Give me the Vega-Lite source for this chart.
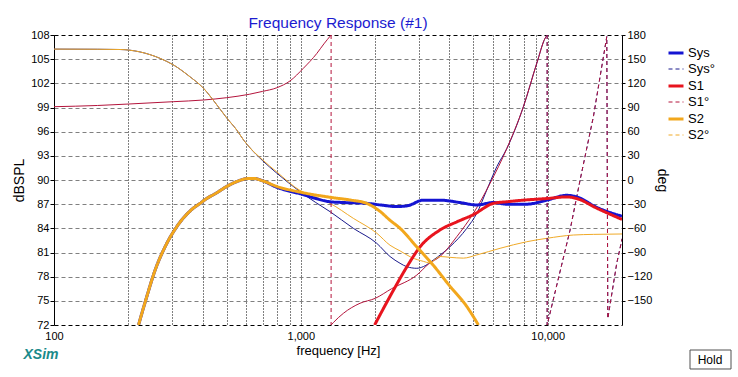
{
  "$schema": "https://vega.github.io/schema/vega-lite/v6.json",
  "width": 568,
  "height": 290,
  "autosize": {"type": "none"},
  "padding": {"left": 54, "top": 35, "right": 116, "bottom": 52},
  "background": "white",
  "title": {"text": "Frequency Response (#1)", "color": "#1c1cd0", "font": "Liberation Sans", "fontSize": 15.5, "fontWeight": "normal", "anchor": "middle", "offset": -2},
  "config": {
    "font": "Liberation Sans",
    "view": {"stroke": null},
    "axis": {"labelFont": "Liberation Sans", "titleFont": "Liberation Sans", "labelColor": "black", "titleColor": "black", "domainColor": "black", "tickColor": "black", "titleFontWeight": "normal", "labelFontSize": 11, "titleFontSize": 14, "labelOverlap": false},
    "legend": {"orient": "none", "legendX": 613, "legendY": 9, "labelFontSize": 13, "labelFont": "Liberation Sans", "labelColor": "black", "symbolType": "stroke", "symbolSize": 225, "rowPadding": 1, "labelOffset": 3, "padding": 0}
  },
  "datasets": {
    "spl": [
      {"f": 220, "v": 72, "s": "Sys"}, {"f": 237.5, "v": 75.5, "s": "Sys"}, {"f": 256.7, "v": 78.8, "s": "Sys"}, {"f": 281.8, "v": 81.7, "s": "Sys"}, {"f": 314.2, "v": 84.2, "s": "Sys"}, {"f": 366.7, "v": 86.5, "s": "Sys"}, {"f": 390.5, "v": 87.1, "s": "Sys"}, {"f": 415.6, "v": 87.7, "s": "Sys"}, {"f": 450, "v": 88.3, "s": "Sys"}, {"f": 501, "v": 89.2, "s": "Sys"}, {"f": 560, "v": 89.9, "s": "Sys"}, {"f": 618, "v": 90.2, "s": "Sys"}, {"f": 642, "v": 90.2, "s": "Sys"}, {"f": 700, "v": 89.9, "s": "Sys"}, {"f": 799, "v": 89.1, "s": "Sys"}, {"f": 900, "v": 88.6, "s": "Sys"}, {"f": 993, "v": 88.3, "s": "Sys"}, {"f": 1150, "v": 87.7, "s": "Sys"}, {"f": 1313, "v": 87.3, "s": "Sys"}, {"f": 1500, "v": 87.2, "s": "Sys"}, {"f": 1849, "v": 87.1, "s": "Sys"}, {"f": 2100, "v": 86.9, "s": "Sys"}, {"f": 2446, "v": 86.7, "s": "Sys"}, {"f": 2700, "v": 86.8, "s": "Sys"}, {"f": 3136, "v": 87.5, "s": "Sys"}, {"f": 3664, "v": 87.5, "s": "Sys"}, {"f": 4416, "v": 87.2, "s": "Sys"}, {"f": 5161, "v": 86.9, "s": "Sys"}, {"f": 6026, "v": 87.2, "s": "Sys"}, {"f": 6829, "v": 87.0, "s": "Sys"}, {"f": 8229, "v": 87.0, "s": "Sys"}, {"f": 9918, "v": 87.5, "s": "Sys"}, {"f": 11950, "v": 88.1, "s": "Sys"}, {"f": 13120, "v": 87.9, "s": "Sys"}, {"f": 15810, "v": 86.6, "s": "Sys"}, {"f": 20000, "v": 85.5, "s": "Sys"},
      {"f": 1990, "v": 72, "s": "S1"}, {"f": 2370, "v": 76.3, "s": "S1"}, {"f": 2686, "v": 79.2, "s": "S1"}, {"f": 3041, "v": 81.7, "s": "S1"}, {"f": 3664, "v": 83.8, "s": "S1"}, {"f": 4281, "v": 84.8, "s": "S1"}, {"f": 5000, "v": 85.7, "s": "S1"}, {"f": 6026, "v": 87.1, "s": "S1"}, {"f": 6829, "v": 87.3, "s": "S1"}, {"f": 7972, "v": 87.5, "s": "S1"}, {"f": 9918, "v": 87.7, "s": "S1"}, {"f": 11950, "v": 87.9, "s": "S1"}, {"f": 13120, "v": 87.7, "s": "S1"}, {"f": 15810, "v": 86.5, "s": "S1"}, {"f": 20000, "v": 85.1, "s": "S1"},
      {"f": 220, "v": 72, "s": "S2"}, {"f": 237.5, "v": 75.5, "s": "S2"}, {"f": 256.7, "v": 78.8, "s": "S2"}, {"f": 281.8, "v": 81.7, "s": "S2"}, {"f": 314.2, "v": 84.2, "s": "S2"}, {"f": 366.7, "v": 86.5, "s": "S2"}, {"f": 390.5, "v": 87.1, "s": "S2"}, {"f": 415.6, "v": 87.7, "s": "S2"}, {"f": 450, "v": 88.3, "s": "S2"}, {"f": 501, "v": 89.2, "s": "S2"}, {"f": 560, "v": 89.9, "s": "S2"}, {"f": 618, "v": 90.2, "s": "S2"}, {"f": 642, "v": 90.2, "s": "S2"}, {"f": 700, "v": 89.9, "s": "S2"}, {"f": 799, "v": 89.2, "s": "S2"}, {"f": 993, "v": 88.5, "s": "S2"}, {"f": 1354, "v": 87.8, "s": "S2"}, {"f": 1600, "v": 87.5, "s": "S2"}, {"f": 1849, "v": 87.1, "s": "S2"}, {"f": 2094, "v": 86.1, "s": "S2"}, {"f": 2298, "v": 85.0, "s": "S2"}, {"f": 2523, "v": 84.0, "s": "S2"}, {"f": 2949, "v": 81.7, "s": "S2"}, {"f": 3443, "v": 79.4, "s": "S2"}, {"f": 4022, "v": 76.8, "s": "S2"}, {"f": 4701, "v": 74.3, "s": "S2"}, {"f": 5239, "v": 72, "s": "S2"}
    ],
    "phase": [
      {"f": 100, "v": 162.5, "s": "Sys°", "seg": "a"}, {"f": 150, "v": 162.3, "s": "Sys°", "seg": "a"}, {"f": 185, "v": 162, "s": "Sys°", "seg": "a"}, {"f": 223, "v": 159, "s": "Sys°", "seg": "a"}, {"f": 269, "v": 151, "s": "Sys°", "seg": "a"}, {"f": 304, "v": 143, "s": "Sys°", "seg": "a"}, {"f": 356, "v": 128, "s": "Sys°", "seg": "a"}, {"f": 403, "v": 114, "s": "Sys°", "seg": "a"}, {"f": 442, "v": 99, "s": "Sys°", "seg": "a"}, {"f": 501, "v": 77, "s": "Sys°", "seg": "a"}, {"f": 550, "v": 62, "s": "Sys°", "seg": "a"}, {"f": 585, "v": 50, "s": "Sys°", "seg": "a"}, {"f": 618, "v": 41, "s": "Sys°", "seg": "a"}, {"f": 700, "v": 24, "s": "Sys°", "seg": "a"}, {"f": 799, "v": 8.5, "s": "Sys°", "seg": "a"}, {"f": 993, "v": -14.5, "s": "Sys°", "seg": "a"}, {"f": 1150, "v": -28, "s": "Sys°", "seg": "a"}, {"f": 1313, "v": -39.3, "s": "Sys°", "seg": "a"}, {"f": 1632, "v": -60, "s": "Sys°", "seg": "a"}, {"f": 2030, "v": -78.6, "s": "Sys°", "seg": "a"}, {"f": 2298, "v": -95, "s": "Sys°", "seg": "a"}, {"f": 2523, "v": -103.4, "s": "Sys°", "seg": "a"}, {"f": 2686, "v": -107.6, "s": "Sys°", "seg": "a"}, {"f": 2949, "v": -109.6, "s": "Sys°", "seg": "a"}, {"f": 3136, "v": -107.5, "s": "Sys°", "seg": "a"}, {"f": 3443, "v": -99.3, "s": "Sys°", "seg": "a"}, {"f": 4022, "v": -82.8, "s": "Sys°", "seg": "a"}, {"f": 4701, "v": -60, "s": "Sys°", "seg": "a"}, {"f": 5161, "v": -41.4, "s": "Sys°", "seg": "a"}, {"f": 5665, "v": -12.4, "s": "Sys°", "seg": "a"}, {"f": 6220, "v": 16.5, "s": "Sys°", "seg": "a"}, {"f": 6829, "v": 39, "s": "Sys°", "seg": "a"}, {"f": 7972, "v": 91, "s": "Sys°", "seg": "a"}, {"f": 9034, "v": 145, "s": "Sys°", "seg": "a"}, {"f": 9761, "v": 176, "s": "Sys°", "seg": "a"}, {"f": 9950, "v": 180, "s": "Sys°", "seg": "a"},
      {"f": 100, "v": 91, "s": "S1°", "seg": "a"}, {"f": 150, "v": 92.5, "s": "S1°", "seg": "a"}, {"f": 200, "v": 94.3, "s": "S1°", "seg": "a"}, {"f": 304, "v": 97.2, "s": "S1°", "seg": "a"}, {"f": 403, "v": 99.3, "s": "S1°", "seg": "a"}, {"f": 501, "v": 102.2, "s": "S1°", "seg": "a"}, {"f": 618, "v": 106.4, "s": "S1°", "seg": "a"}, {"f": 700, "v": 110, "s": "S1°", "seg": "a"}, {"f": 799, "v": 114.5, "s": "S1°", "seg": "a"}, {"f": 904, "v": 123, "s": "S1°", "seg": "a"}, {"f": 1023, "v": 138.6, "s": "S1°", "seg": "a"}, {"f": 1160, "v": 157, "s": "S1°", "seg": "a"}, {"f": 1240, "v": 169, "s": "S1°", "seg": "a"}, {"f": 1326, "v": 180, "s": "S1°", "seg": "a"},
      {"f": 1326, "v": -180, "s": "S1°", "seg": "b"}, {"f": 1354, "v": -177, "s": "S1°", "seg": "b"}, {"f": 1487, "v": -165.5, "s": "S1°", "seg": "b"}, {"f": 1737, "v": -153, "s": "S1°", "seg": "b"}, {"f": 1998, "v": -147, "s": "S1°", "seg": "b"}, {"f": 2330, "v": -135, "s": "S1°", "seg": "b"}, {"f": 2949, "v": -118, "s": "S1°", "seg": "b"}, {"f": 3300, "v": -104, "s": "S1°", "seg": "b"}, {"f": 3664, "v": -95, "s": "S1°", "seg": "b"}, {"f": 4281, "v": -70.4, "s": "S1°", "seg": "b"}, {"f": 5000, "v": -41.4, "s": "S1°", "seg": "b"}, {"f": 5843, "v": -4.1, "s": "S1°", "seg": "b"}, {"f": 6829, "v": 39, "s": "S1°", "seg": "b"}, {"f": 7972, "v": 91, "s": "S1°", "seg": "b"}, {"f": 9034, "v": 145, "s": "S1°", "seg": "b"}, {"f": 9761, "v": 176, "s": "S1°", "seg": "b"}, {"f": 9950, "v": 180, "s": "S1°", "seg": "b"},
      {"f": 100, "v": 162.5, "s": "S2°", "seg": "a"}, {"f": 150, "v": 162.3, "s": "S2°", "seg": "a"}, {"f": 185, "v": 162, "s": "S2°", "seg": "a"}, {"f": 223, "v": 159, "s": "S2°", "seg": "a"}, {"f": 269, "v": 151, "s": "S2°", "seg": "a"}, {"f": 304, "v": 143, "s": "S2°", "seg": "a"}, {"f": 356, "v": 128, "s": "S2°", "seg": "a"}, {"f": 403, "v": 114, "s": "S2°", "seg": "a"}, {"f": 442, "v": 99, "s": "S2°", "seg": "a"}, {"f": 501, "v": 77, "s": "S2°", "seg": "a"}, {"f": 550, "v": 62, "s": "S2°", "seg": "a"}, {"f": 585, "v": 50, "s": "S2°", "seg": "a"}, {"f": 618, "v": 41, "s": "S2°", "seg": "a"}, {"f": 700, "v": 25, "s": "S2°", "seg": "a"}, {"f": 799, "v": 10, "s": "S2°", "seg": "a"}, {"f": 993, "v": -13, "s": "S2°", "seg": "a"}, {"f": 1150, "v": -21, "s": "S2°", "seg": "a"}, {"f": 1313, "v": -29, "s": "S2°", "seg": "a"}, {"f": 1632, "v": -47.6, "s": "S2°", "seg": "a"}, {"f": 2030, "v": -66, "s": "S2°", "seg": "a"}, {"f": 2298, "v": -81, "s": "S2°", "seg": "a"}, {"f": 2523, "v": -88, "s": "S2°", "seg": "a"}, {"f": 2800, "v": -96, "s": "S2°", "seg": "a"}, {"f": 3136, "v": -101, "s": "S2°", "seg": "a"}, {"f": 3338, "v": -103, "s": "S2°", "seg": "a"}, {"f": 3450, "v": -100, "s": "S2°", "seg": "a"}, {"f": 3664, "v": -95, "s": "S2°", "seg": "a"}, {"f": 4022, "v": -96, "s": "S2°", "seg": "a"}, {"f": 4554, "v": -97, "s": "S2°", "seg": "a"}, {"f": 5161, "v": -93, "s": "S2°", "seg": "a"}, {"f": 6414, "v": -84.8, "s": "S2°", "seg": "a"}, {"f": 8229, "v": -76.6, "s": "S2°", "seg": "a"}, {"f": 9918, "v": -72.4, "s": "S2°", "seg": "a"}, {"f": 12710, "v": -68.3, "s": "S2°", "seg": "a"}, {"f": 15316, "v": -67.5, "s": "S2°", "seg": "a"}, {"f": 20000, "v": -67, "s": "S2°", "seg": "a"}
    ],
    "wrap": [
      {"f": 1326, "v": 180, "s": "S1°", "seg": "w1"}, {"f": 1326, "v": -180, "s": "S1°", "seg": "w1"},
      {"f": 9950, "v": 180, "s": "Sys°", "seg": "w2"}, {"f": 9950, "v": -180, "s": "Sys°", "seg": "w2"}, {"f": 12325, "v": -62, "s": "Sys°", "seg": "w2"}, {"f": 13530, "v": 0, "s": "Sys°", "seg": "w2"}, {"f": 15316, "v": 78.6, "s": "Sys°", "seg": "w2"}, {"f": 17355, "v": 178, "s": "Sys°", "seg": "w2"}, {"f": 17520, "v": -172, "s": "Sys°", "seg": "w2"}, {"f": 19055, "v": -103, "s": "Sys°", "seg": "w2"}, {"f": 19970, "v": -74.5, "s": "Sys°", "seg": "w2"}, {"f": 20000, "v": -73, "s": "Sys°", "seg": "w2"},
      {"f": 9950, "v": 180, "s": "S1°", "seg": "w3"}, {"f": 9950, "v": -180, "s": "S1°", "seg": "w3"}, {"f": 12325, "v": -62, "s": "S1°", "seg": "w3"}, {"f": 13530, "v": 0, "s": "S1°", "seg": "w3"}, {"f": 15316, "v": 78.6, "s": "S1°", "seg": "w3"}, {"f": 17355, "v": 178, "s": "S1°", "seg": "w3"}, {"f": 17520, "v": -172, "s": "S1°", "seg": "w3"}, {"f": 19055, "v": -103, "s": "S1°", "seg": "w3"}, {"f": 19970, "v": -74.5, "s": "S1°", "seg": "w3"}, {"f": 20000, "v": -73, "s": "S1°", "seg": "w3"}
    ]
  },
  "layer": [
    {
      "layer": [
        {
          "data": {"name": "phase"},
          "mark": {"type": "line", "interpolate": "monotone", "clip": true},
          "encoding": {
            "x": {"field": "f", "type": "quantitative", "scale": {"type": "log", "domain": [100, 20000], "nice": false}},
            "y": {"field": "v", "type": "quantitative", "scale": {"domain": [-180, 180], "nice": false, "zero": false},
              "axis": {"orient": "right", "values": [-150, -120, -90, -60, -30, 0, 30, 60, 90, 120, 150, 180], "grid": false, "tickSize": 3, "labelPadding": 2, "labelOverlap": false, "title": "deg", "titlePadding": 3}},
            "color": {"field": "s", "type": "nominal", "scale": {"domain": ["Sys", "Sys°", "S1", "S1°", "S2", "S2°"], "range": ["#1414d2", "#1a1a8c", "#e8141e", "#b4143c", "#f2a71c", "#f0aa28"]}, "legend": {"title": null}},
            "strokeWidth": {"field": "s", "type": "nominal", "scale": {"type": "ordinal", "domain": ["Sys", "Sys°", "S1", "S1°", "S2", "S2°"], "range": [3, 1, 3, 1, 3, 1]}, "legend": {"title": null}},
            "detail": {"field": "seg"}
          }
        },
        {
          "data": {"name": "wrap"},
          "mark": {"type": "line", "clip": true},
          "encoding": {
            "x": {"field": "f", "type": "quantitative", "scale": {"type": "log", "domain": [100, 20000], "nice": false}},
            "y": {"field": "v", "type": "quantitative", "scale": {"domain": [-180, 180], "nice": false, "zero": false},
              "axis": {"orient": "right", "values": [-150, -120, -90, -60, -30, 0, 30, 60, 90, 120, 150, 180], "grid": false, "tickSize": 3, "labelPadding": 2, "labelOverlap": false, "title": "deg", "titlePadding": 3}},
            "color": {"field": "s", "type": "nominal", "scale": {"domain": ["Sys", "Sys°", "S1", "S1°", "S2", "S2°"]}, "legend": {"title": null}},
            "strokeWidth": {"field": "s", "type": "nominal", "scale": {"type": "ordinal", "domain": ["Sys", "Sys°", "S1", "S1°", "S2", "S2°"], "range": [3, 1, 3, 1, 3, 1]}, "legend": {"title": null}},
            "strokeDash": {"field": "s", "type": "nominal", "scale": {"type": "ordinal", "domain": ["Sys", "Sys°", "S1", "S1°", "S2", "S2°"], "range": [[1, 0], [4, 3], [1, 0], [4, 3], [1, 0], [4, 3]]}, "legend": {"title": null}},
            "detail": {"field": "seg"}
          }
        }
      ]
    },
    {
      "layer": [
        {
          "data": {"name": "spl"},
          "mark": {"type": "line", "interpolate": "monotone", "clip": true},
          "encoding": {
            "x": {"field": "f", "type": "quantitative", "scale": {"type": "log", "domain": [100, 20000], "nice": false},
              "axis": {"values": [100, 200, 300, 400, 500, 600, 700, 800, 900, 1000, 2000, 3000, 4000, 5000, 6000, 7000, 8000, 9000, 10000, 20000],
                "labelExpr": "indexof([100, 1000, 10000], datum.value) >= 0 ? format(datum.value, ',') : ''",
                "grid": true, "gridColor": "black", "gridDash": [1, 2], "gridOpacity": 1, "ticks": false, "domain": false, "labelPadding": 5, "labelFlush": false, "labelOverlap": false,
                "title": "frequency [Hz]", "titleFontSize": 13, "titlePadding": 3}},
            "y": {"field": "v", "type": "quantitative", "scale": {"domain": [72, 108], "nice": false, "zero": false},
              "axis": {"orient": "left", "values": [72, 75, 78, 81, 84, 87, 90, 93, 96, 99, 102, 105, 108], "grid": true,
                "gridColor": {"condition": {"test": "datum.value == 72 || datum.value == 108", "value": "black"}, "value": "#808080"},
                "gridDash": [4, 3], "gridOpacity": 1, "tickSize": 4, "labelPadding": 1, "labelOverlap": false, "title": "dBSPL", "titlePadding": 4}},
            "color": {"field": "s", "type": "nominal", "scale": {"domain": ["Sys", "Sys°", "S1", "S1°", "S2", "S2°"]}, "legend": {"title": null}},
            "strokeWidth": {"field": "s", "type": "nominal", "scale": {"type": "ordinal", "domain": ["Sys", "Sys°", "S1", "S1°", "S2", "S2°"], "range": [3, 1, 3, 1, 3, 1]}, "legend": {"title": null}},
            "strokeDash": {"field": "s", "type": "nominal", "scale": {"type": "ordinal", "domain": ["Sys", "Sys°", "S1", "S1°", "S2", "S2°"], "range": [[1, 0], [4, 3], [1, 0], [4, 3], [1, 0], [4, 3]]}, "legend": {"title": null}}
          }
        },
        {
          "data": {"values": [{}]},
          "mark": {"type": "text", "text": "XSim", "font": "Liberation Sans", "fontStyle": "italic", "fontWeight": "bold", "fontSize": 14, "color": "#1a8a8a", "align": "center", "baseline": "middle", "dx": -13, "dy": 30},
          "encoding": {
            "x": {"datum": 100, "type": "quantitative"},
            "y": {"datum": 72, "type": "quantitative",
              "axis": {"orient": "left", "values": [72, 75, 78, 81, 84, 87, 90, 93, 96, 99, 102, 105, 108], "grid": true,
                "gridColor": {"condition": {"test": "datum.value == 72 || datum.value == 108", "value": "black"}, "value": "#808080"},
                "gridDash": [4, 3], "gridOpacity": 1, "tickSize": 4, "labelPadding": 1, "labelOverlap": false, "title": "dBSPL", "titlePadding": 4}}
          }
        },
        {
          "data": {"values": [{}]},
          "mark": {"type": "point", "shape": "M-1,-0.463H1V0.463H-1Z", "size": 1681, "filled": true, "fill": "white", "stroke": "#505050", "strokeWidth": 1, "opacity": 1, "xOffset": 88.5, "yOffset": 34.5},
          "encoding": {
            "x": {"datum": 20000, "type": "quantitative"},
            "y": {"datum": 72, "type": "quantitative",
              "axis": {"orient": "left", "values": [72, 75, 78, 81, 84, 87, 90, 93, 96, 99, 102, 105, 108], "grid": true,
                "gridColor": {"condition": {"test": "datum.value == 72 || datum.value == 108", "value": "black"}, "value": "#808080"},
                "gridDash": [4, 3], "gridOpacity": 1, "tickSize": 4, "labelPadding": 1, "labelOverlap": false, "title": "dBSPL", "titlePadding": 4}}
          }
        },
        {
          "data": {"values": [{}]},
          "mark": {"type": "text", "text": "Hold", "font": "Liberation Sans", "fontSize": 12, "color": "black", "align": "center", "baseline": "middle", "dx": 88, "dy": 35},
          "encoding": {
            "x": {"datum": 20000, "type": "quantitative"},
            "y": {"datum": 72, "type": "quantitative",
              "axis": {"orient": "left", "values": [72, 75, 78, 81, 84, 87, 90, 93, 96, 99, 102, 105, 108], "grid": true,
                "gridColor": {"condition": {"test": "datum.value == 72 || datum.value == 108", "value": "black"}, "value": "#808080"},
                "gridDash": [4, 3], "gridOpacity": 1, "tickSize": 4, "labelPadding": 1, "labelOverlap": false, "title": "dBSPL", "titlePadding": 4}}
          }
        }
      ]
    }
  ],
  "resolve": {"scale": {"y": "independent"}}
}
